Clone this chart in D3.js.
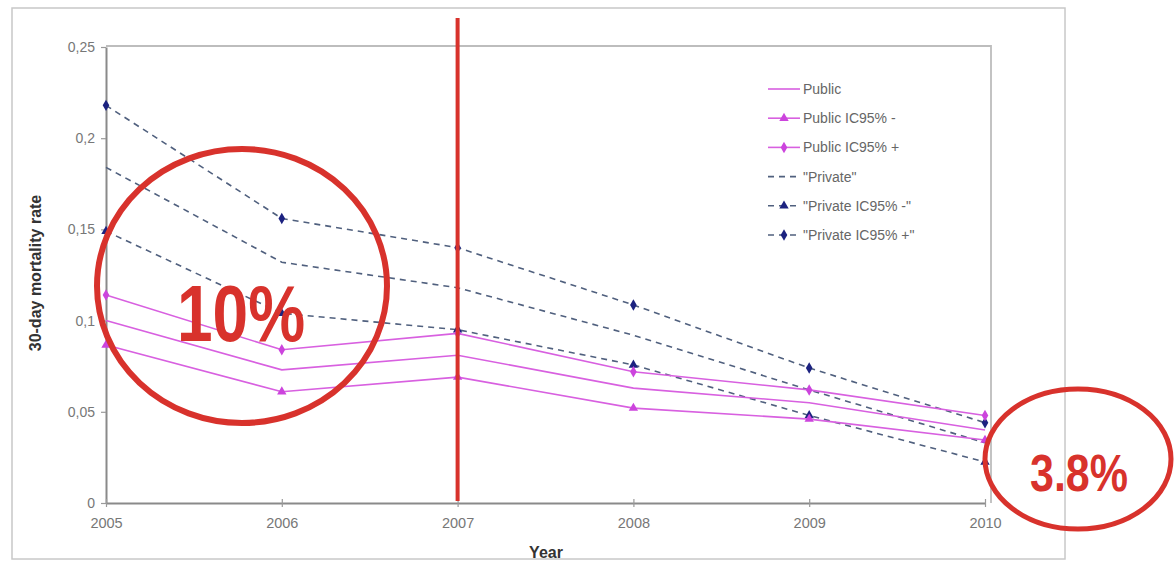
<!DOCTYPE html>
<html><head><meta charset="utf-8">
<script src="https://cdn.jsdelivr.net/npm/d3@7"></script>
<style>body{margin:0;background:#fff}svg{display:block}</style>
</head><body>
<svg id="c" width="1175" height="562"></svg>
<script>
const years = [2005, 2006, 2007, 2008, 2009, 2010];
const publicVals  = [0.100, 0.073, 0.081, 0.063, 0.055, 0.040];
const publicLow   = [0.0866, 0.061, 0.069, 0.052, 0.046, 0.0345];
const publicHigh  = [0.114, 0.084, 0.093, 0.072, 0.062, 0.048];
const privateVals = [0.184, 0.132, 0.118, 0.092, 0.062, 0.033];
const privateLow  = [0.149, 0.104, 0.095, 0.0757, 0.048, 0.0225];
const privateHigh = [0.218, 0.156, 0.140, 0.1086, 0.074, 0.044];
const yTicks = [0, 0.05, 0.1, 0.15, 0.2, 0.25];
const yTickLabels = ["0", "0,05", "0,1", "0,15", "0,2", "0,25"];
const seriesNames = ["Public", "Public IC95% -", "Public IC95% +", "\"Private\"", "\"Private IC95% -\"", "\"Private IC95% +\""];
const markerYear = 2007;
const leftNote = "10%";
const rightNote = "3.8%";

const pink = "#d860e0", navyLine = "#50607e", navy = "#1c2280";
const series = [
  {name: seriesNames[0], vals: publicVals, color: pink, dash: null, marker: null, mcolor: pink},
  {name: seriesNames[1], vals: publicLow, color: pink, dash: null, marker: "tri", mcolor: "#cc44dd"},
  {name: seriesNames[2], vals: publicHigh, color: pink, dash: null, marker: "dia", mcolor: "#cc44dd"},
  {name: seriesNames[3], vals: privateVals, color: navyLine, dash: "6,5", marker: null, mcolor: navy},
  {name: seriesNames[4], vals: privateLow, color: navyLine, dash: "6,5", marker: "tri", mcolor: navy},
  {name: seriesNames[5], vals: privateHigh, color: navyLine, dash: "6,5", marker: "dia", mcolor: navy}
];

const svg = d3.select("#c");
const L = 106, R = 985, T = 47, B = 503;
const x = d3.scaleLinear().domain([2005, 2010]).range([L, R]);
const y = d3.scaleLinear().domain([0, 0.25]).range([B, T]);
const FONT = "Liberation Sans, Arial, sans-serif";

// outer frame
svg.append("rect").attr("x", 12).attr("y", 8).attr("width", 1053).attr("height", 551)
  .attr("fill", "none").attr("stroke", "#c8c8c8").attr("stroke-width", 1.5);

// plot border (top & right)
svg.append("path").attr("d", `M${L},${T-1}H${991}V${B}`).attr("fill", "none")
  .attr("stroke", "#bdbdbd").attr("stroke-width", 1.8);

// axes
const yAxis = d3.axisLeft(y).tickValues(yTicks).tickFormat((d, i) => yTickLabels[i]).tickSize(5).tickSizeOuter(0);
const gy = svg.append("g").attr("transform", `translate(${L},0)`).call(yAxis);
const xAxis = d3.axisBottom(x).tickValues(years).tickFormat(d3.format("d")).tickSize(4).tickSizeOuter(0);
const gx = svg.append("g").attr("transform", `translate(0,${B})`).call(xAxis);
[gy, gx].forEach(g => {
  g.select(".domain").attr("stroke", "#8a8a8a").attr("stroke-width", 2);
  g.selectAll(".tick line").attr("stroke", "#9a9a9a").attr("stroke-width", 1.2);
  g.selectAll(".tick text").attr("fill", "#777").style("font-family", FONT).style("font-size", "14px");
});
gy.selectAll(".tick text").attr("x", -11);
gx.selectAll(".tick text").attr("y", 15).style("font-size", "14.5px");
gx.selectAll(".tick line").attr("y1", -4);

// axis titles
svg.append("text").attr("x", 546).attr("y", 558).attr("text-anchor", "middle")
  .style("font-family", FONT).style("font-weight", "bold").style("font-size", "16px")
  .attr("fill", "#333").text("Year");
svg.append("text").attr("transform", "translate(41,273) rotate(-90)").attr("text-anchor", "middle")
  .style("font-family", FONT).style("font-weight", "bold").style("font-size", "16px")
  .attr("fill", "#333").text("30-day mortality rate");

const line = d3.line().x((d, i) => x(years[i])).y(d => y(d));
const triSym = d3.symbol().type(d3.symbolTriangle).size(38);
const diaSym = d3.symbol().type(d3.symbolDiamond).size(38);

// draw private first, then public
[3, 4, 5, 0, 1, 2].forEach(k => {
  const s = series[k];
  svg.append("path").attr("d", line(s.vals)).attr("fill", "none")
    .attr("stroke", s.color).attr("stroke-width", 1.6)
    .attr("stroke-dasharray", s.dash);
  if (s.marker) {
    svg.append("g").selectAll("path").data(s.vals).join("path")
      .attr("transform", (d, i) => `translate(${x(years[i])},${y(d)})`)
      .attr("d", s.marker === "tri" ? triSym() : diaSym())
      .attr("fill", s.mcolor);
  }
});

// legend
const lg = svg.append("g");
series.forEach((s, i) => {
  const yy = 89 + i * 29.2;
  lg.append("line").attr("x1", 768).attr("x2", 800).attr("y1", yy).attr("y2", yy)
    .attr("stroke", s.color).attr("stroke-width", 1.6).attr("stroke-dasharray", s.dash);
  if (s.marker) {
    lg.append("path").attr("transform", `translate(784,${yy})`)
      .attr("d", s.marker === "tri" ? triSym() : diaSym()).attr("fill", s.mcolor);
  }
  lg.append("text").attr("x", 803).attr("y", yy + 5)
    .style("font-family", FONT).style("font-size", "14px")
    .attr("fill", "#666").text(s.name);
});

// red annotations
const red = "#d8322c";
svg.append("line").attr("x1", x(markerYear)).attr("x2", x(markerYear)).attr("y1", 18).attr("y2", 501)
  .attr("stroke", red).attr("stroke-width", 4);
svg.append("ellipse").attr("cx", 242).attr("cy", 286).attr("rx", 145).attr("ry", 137)
  .attr("fill", "none").attr("stroke", red).attr("stroke-width", 6);
svg.append("text").attr("x", 177).attr("y", 341)
  .attr("textLength", 128).attr("lengthAdjust", "spacingAndGlyphs")
  .style("font-family", FONT).style("font-weight", "bold").style("font-size", "80px")
  .attr("fill", red).text(leftNote);
svg.append("ellipse").attr("cx", 1078).attr("cy", 459).attr("rx", 93).attr("ry", 70)
  .attr("fill", "none").attr("stroke", red).attr("stroke-width", 5);
svg.append("text").attr("x", 1030).attr("y", 491)
  .attr("textLength", 98).attr("lengthAdjust", "spacingAndGlyphs")
  .style("font-family", FONT).style("font-weight", "bold").style("font-size", "52px")
  .attr("fill", red).text(rightNote);
</script>
</body></html>
